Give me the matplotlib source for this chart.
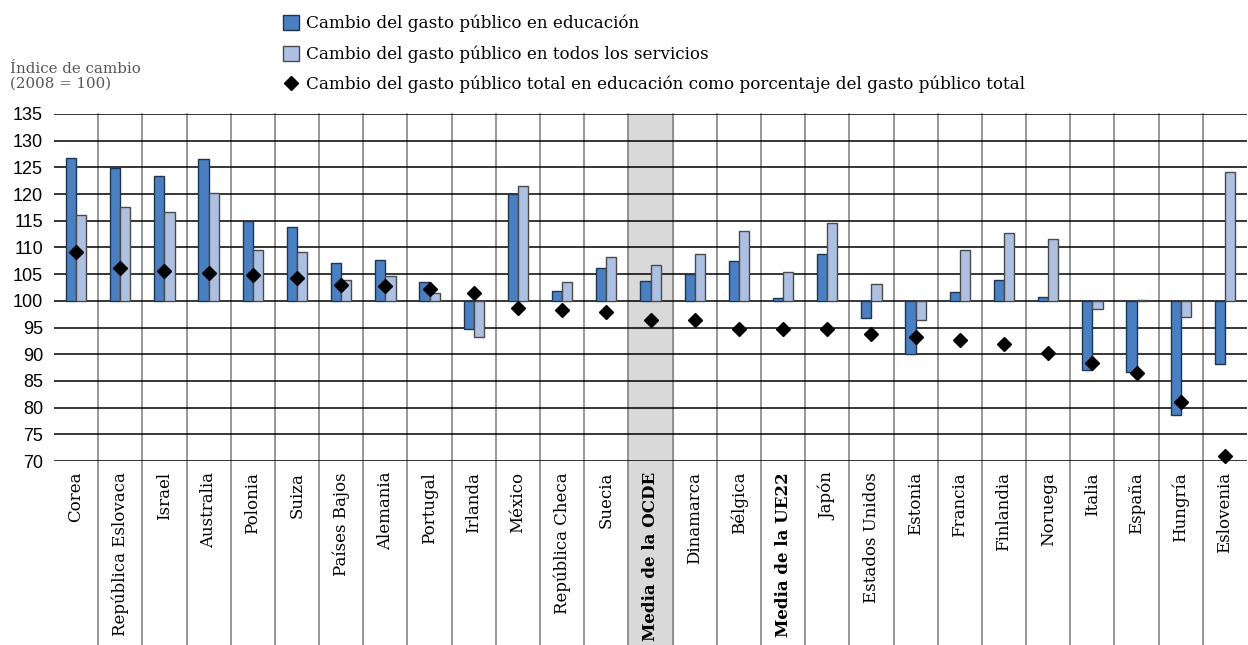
import matplotlib
matplotlib.use("Agg")
import matplotlib.pyplot as plt
from matplotlib.patches import Patch
from matplotlib.lines import Line2D
import numpy as np

paises = ["Corea", "República Eslovaca", "Israel", "Australia", "Polonia", "Suiza",
          "Países Bajos", "Alemania", "Portugal", "Irlanda", "México", "República Checa",
          "Suecia", "Media de la OCDE", "Dinamarca", "Bélgica", "Media de la UE22", "Japón",
          "Estados Unidos", "Estonia", "Francia", "Finlandia", "Noruega", "Italia",
          "España", "Hungría", "Eslovenia"]

# cambio del gasto publico en educacion
gasto_educ = [126.8, 124.9, 123.4, 126.6, 115.0, 113.9, 107.1, 107.7, 103.6, 94.7,
              120.1, 101.9, 106.2, 103.8, 105.1, 107.4, 100.5, 108.7, 96.8, 90.0,
              101.7, 103.9, 100.8, 87.1, 86.7, 78.7, 88.2]
# cambio del gasto publico en todos los servicios
gasto_total = [116.0, 117.5, 116.7, 120.2, 109.5, 109.2, 103.9, 104.7, 101.4, 93.2,
               121.6, 103.6, 108.2, 106.7, 108.7, 113.0, 105.4, 114.5, 103.1, 96.5,
               109.5, 112.8, 111.6, 98.5, 100.2, 97.0, 124.1]
# gasto en educacion como porcentaje del gasto total
porcentaje = [109.2, 106.2, 105.6, 105.3, 104.8, 104.2, 103.0, 102.8, 102.2, 101.5,
              98.6, 98.2, 98.0, 96.5, 96.5, 94.8, 94.8, 94.8, 93.8, 93.2,
              92.7, 92.0, 90.2, 88.3, 86.4, 81.0, 71.0]

medias = ["Media de la OCDE", "Media de la UE22"]

W, H = 1248, 645
fig = plt.figure(figsize=(W / 100, H / 100), dpi=100)
x0, x1, ytop, ybot = 54, 1247, 114, 461
ax = fig.add_axes([x0 / W, 1 - ybot / H, (x1 - x0) / W, (ybot - ytop) / H])

n = len(paises)
x = np.arange(n) + 0.5
ancho = 0.23
azul = "#4a80c2"
celeste = "#adc0e2"

ax.set_xlim(0, n)
ax.set_ylim(70, 135)

abajo = -(H - ybot) / (ybot - ytop)
i_ocde = paises.index("Media de la OCDE")
ax.axvspan(i_ocde, i_ocde + 1, ymin=abajo, ymax=1, color="#d9d9d9", zorder=0, clip_on=False)

for i in range(1, n):
    ax.axvline(i, ymin=abajo, ymax=1, color="#7a7a7a", lw=1.1, zorder=1, clip_on=False)
for v in range(70, 136, 5):
    ax.axhline(v, color="black", lw=1.1, zorder=1)

ed = np.array(gasto_educ) - 100
tot = np.array(gasto_total) - 100
ax.bar(x - ancho / 2, ed, ancho, bottom=100, color=azul, edgecolor="#1e3550", lw=1, zorder=2)
ax.bar(x + ancho / 2, tot, ancho, bottom=100, color=celeste, edgecolor="#4a4a4a", lw=1, zorder=2)
ax.plot(x, porcentaje, "D", color="black", ms=7.5, ls="none", zorder=4, clip_on=False)

for s in ax.spines.values():
    s.set_visible(False)
ax.set_yticks(range(70, 136, 5))
ax.set_yticklabels([str(v) for v in range(70, 136, 5)], family="Liberation Sans", fontsize=13)
ax.tick_params(axis="y", length=0, pad=8)
ax.set_xticks([])

for i, p in enumerate(paises):
    peso = "bold" if p in medias else "normal"
    fig.text(x[i] / n * (x1 - x0) / W + x0 / W, 1 - 472 / H, p, rotation=90,
             ha="center", va="top", fontsize=12, family="DejaVu Serif", fontweight=peso)

fig.text(10 / W, 1 - 62 / H, "Índice de cambio\n(2008 = 100)", ha="left", va="top",
         fontsize=10.8, family="DejaVu Serif", color="#555555", linespacing=1.1)

manejadores = [
    Patch(facecolor=azul, edgecolor="#1e3550", lw=1),
    Patch(facecolor=celeste, edgecolor="#4a4a4a", lw=1),
    Line2D([], [], marker="D", color="black", ls="none", ms=7.5),
]
etiquetas = ["Cambio del gasto público en educación",
             "Cambio del gasto público en todos los servicios",
             "Cambio del gasto público total en educación como porcentaje del gasto público total"]
fig.legend(manejadores, etiquetas, loc="upper left", bbox_to_anchor=(276 / W, 1 - 8 / H),
           frameon=False, prop={"family": "DejaVu Serif", "size": 12.05},
           handlelength=1.0, handleheight=1.0, handletextpad=0.4, labelspacing=0.78,
           borderaxespad=0)

fig.savefig("out.png", dpi=100)
